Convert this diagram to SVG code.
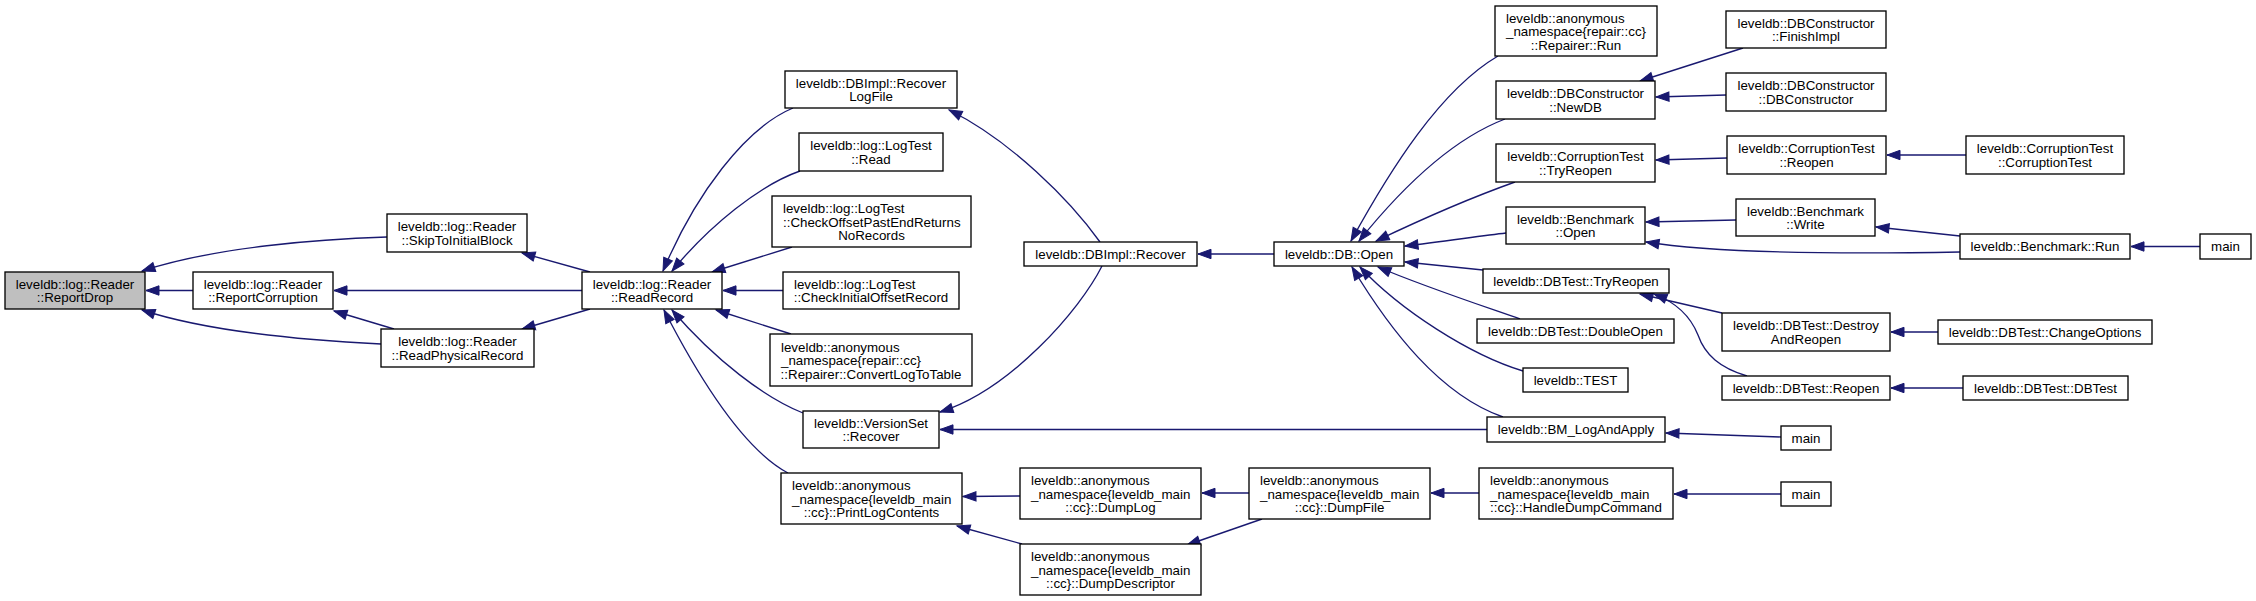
<svg xmlns="http://www.w3.org/2000/svg" width="2256" height="601" viewBox="0 0 2256 601">
<style>
.n rect{fill:#fff;stroke:#000;stroke-width:1.33}
.n.root rect{fill:#bfbfbf}
.n text{font-family:"Liberation Sans",Arial,Helvetica,sans-serif;font-size:13.33px;fill:#000}
.c{text-anchor:middle}
.e path{fill:none;stroke:#191970;stroke-width:1.33;marker-end:url(#ah)}
</style>
<defs>
<marker id="ah" markerUnits="userSpaceOnUse" markerWidth="15" markerHeight="11" refX="13" refY="4.7" orient="auto" overflow="visible">
<path d="M0,0 L13,4.7 L0,9.4 Z" fill="#191970" stroke="#191970" stroke-width="1"/>
</marker>
</defs>
<rect width="2256" height="601" fill="#fff"/>
<g class="e" id="edges">
<path d="M193,290.5 L146,290.5"/>
<path d="M387,237 C320,239 215,247 142,271"/>
<path d="M381,344 C320,341 215,334 142,310"/>
<path d="M394,329 L334,311"/>
<path d="M582,290.5 L334,290.5"/>
<path d="M590,272 L522,253"/>
<path d="M590,309 L522,329"/>
<path d="M793,108 C745,128 695,195 663,271"/>
<path d="M800,171 C760,185 710,225 672,271"/>
<path d="M792,247 L712,272"/>
<path d="M783,290.5 L723,290.5"/>
<path d="M791,334 L716,310"/>
<path d="M803,413 C765,398 715,360 672,310"/>
<path d="M788,473 C745,450 700,380 664,310"/>
<path d="M1100,242 C1070,200 1010,140 949,110"/>
<path d="M1102,266 C1080,310 1010,390 940,412"/>
<path d="M1274,254 L1198,254"/>
<path d="M1487,429.5 L940,429.5"/>
<path d="M1020,496 L963,496.5"/>
<path d="M1022,544 L957,526"/>
<path d="M1249,493 L1202,493"/>
<path d="M1262,519 L1187,545"/>
<path d="M1479,493 L1431,493"/>
<path d="M1781,494 L1674,494"/>
<path d="M1781,437 L1666,433"/>
<path d="M1498,56 C1440,90 1390,170 1351,241"/>
<path d="M1505,119 C1450,140 1400,190 1359,241"/>
<path d="M1515,182 C1470,198 1420,220 1376,241"/>
<path d="M1506,233 C1480,236 1440,242 1405,246"/>
<path d="M1483,270 L1405,262"/>
<path d="M1520,319 C1480,305 1420,285 1378,267"/>
<path d="M1523,371 C1470,355 1400,310 1360,267"/>
<path d="M1503,417 C1440,395 1390,330 1352,267"/>
<path d="M1743,48 L1640,81"/>
<path d="M1726,95 L1656,97"/>
<path d="M1727,158 L1656,160"/>
<path d="M1966,155 L1887,155"/>
<path d="M1736,220 L1646,222"/>
<path d="M1960,236 L1876,227"/>
<path d="M1960,252 C1850,254 1720,254 1646,242"/>
<path d="M2200,246.5 L2131,246.5"/>
<path d="M1722,313 L1640,294"/>
<path d="M1747,376 C1720,368 1705,355 1698,335 C1690,315 1675,302 1654,294"/>
<path d="M1938,332 L1891,332"/>
<path d="M1963,388 L1891,388"/>
</g>
<g class="n root" id="ReportDrop"><rect x="5" y="272" width="140" height="37"/><text class="c" x="75" y="288.5">leveldb::log::Reader</text><text class="c" x="75" y="302">::ReportDrop</text></g>
<g class="n" id="ReportCorruption"><rect x="193" y="272" width="140" height="37"/><text class="c" x="263" y="288.5">leveldb::log::Reader</text><text class="c" x="263" y="302">::ReportCorruption</text></g>
<g class="n" id="SkipToInitialBlock"><rect x="387" y="214" width="140" height="38"/><text class="c" x="457" y="231">leveldb::log::Reader</text><text class="c" x="457" y="244.5">::SkipToInitialBlock</text></g>
<g class="n" id="ReadPhysicalRecord"><rect x="381" y="329" width="153" height="38"/><text class="c" x="457.5" y="346">leveldb::log::Reader</text><text class="c" x="457.5" y="359.5">::ReadPhysicalRecord</text></g>
<g class="n" id="ReadRecord"><rect x="582" y="272" width="140" height="37"/><text class="c" x="652" y="288.5">leveldb::log::Reader</text><text class="c" x="652" y="302">::ReadRecord</text></g>
<g class="n" id="RecoverLogFile"><rect x="785" y="71" width="172" height="37"/><text class="c" x="871" y="87.5">leveldb::DBImpl::Recover</text><text class="c" x="871" y="101">LogFile</text></g>
<g class="n" id="LogTestRead"><rect x="799" y="133" width="144" height="38"/><text class="c" x="871" y="150">leveldb::log::LogTest</text><text class="c" x="871" y="163.5">::Read</text></g>
<g class="n" id="CheckOffsetPastEnd"><rect x="772" y="196" width="199" height="51"/><text x="783" y="213">leveldb::log::LogTest</text><text x="783" y="226.5">::CheckOffsetPastEndReturns</text><text class="c" x="871.5" y="240">NoRecords</text></g>
<g class="n" id="CheckInitialOffsetRecord"><rect x="783" y="272" width="176" height="37"/><text x="794" y="288.5">leveldb::log::LogTest</text><text class="c" x="871" y="302">::CheckInitialOffsetRecord</text></g>
<g class="n" id="ConvertLogToTable"><rect x="770" y="334" width="202" height="52"/><text x="781" y="351.5">leveldb::anonymous</text><text x="781" y="365">_namespace{repair::cc}</text><text class="c" x="871" y="378.5">::Repairer::ConvertLogToTable</text></g>
<g class="n" id="VersionSetRecover"><rect x="803" y="411" width="136" height="37"/><text class="c" x="871" y="427.5">leveldb::VersionSet</text><text class="c" x="871" y="441">::Recover</text></g>
<g class="n" id="PrintLogContents"><rect x="781" y="473" width="181" height="51"/><text x="792" y="490">leveldb::anonymous</text><text x="792" y="503.5">_namespace{leveldb_main</text><text class="c" x="871.5" y="517">::cc}::PrintLogContents</text></g>
<g class="n" id="DBImplRecover"><rect x="1024" y="242" width="173" height="24"/><text class="c" x="1110.5" y="258.5">leveldb::DBImpl::Recover</text></g>
<g class="n" id="DumpLog"><rect x="1020" y="468" width="181" height="51"/><text x="1031" y="485">leveldb::anonymous</text><text x="1031" y="498.5">_namespace{leveldb_main</text><text class="c" x="1110.5" y="512">::cc}::DumpLog</text></g>
<g class="n" id="DumpDescriptor"><rect x="1020" y="544" width="181" height="51"/><text x="1031" y="561">leveldb::anonymous</text><text x="1031" y="574.5">_namespace{leveldb_main</text><text class="c" x="1110.5" y="588">::cc}::DumpDescriptor</text></g>
<g class="n" id="DBOpen"><rect x="1274" y="242" width="130" height="24"/><text class="c" x="1339" y="258.5">leveldb::DB::Open</text></g>
<g class="n" id="DumpFile"><rect x="1249" y="468" width="181" height="51"/><text x="1260" y="485">leveldb::anonymous</text><text x="1260" y="498.5">_namespace{leveldb_main</text><text class="c" x="1339.5" y="512">::cc}::DumpFile</text></g>
<g class="n" id="HandleDumpCommand"><rect x="1479" y="468" width="194" height="51"/><text x="1490" y="485">leveldb::anonymous</text><text x="1490" y="498.5">_namespace{leveldb_main</text><text class="c" x="1576" y="512">::cc}::HandleDumpCommand</text></g>
<g class="n" id="RepairerRun"><rect x="1495" y="6" width="162" height="50"/><text x="1506" y="22.5">leveldb::anonymous</text><text x="1506" y="36">_namespace{repair::cc}</text><text class="c" x="1576" y="49.5">::Repairer::Run</text></g>
<g class="n" id="NewDB"><rect x="1496" y="81" width="159" height="38"/><text class="c" x="1575.5" y="98">leveldb::DBConstructor</text><text class="c" x="1575.5" y="111.5">::NewDB</text></g>
<g class="n" id="CTTryReopen"><rect x="1496" y="144" width="159" height="38"/><text class="c" x="1575.5" y="161">leveldb::CorruptionTest</text><text class="c" x="1575.5" y="174.5">::TryReopen</text></g>
<g class="n" id="BenchmarkOpen"><rect x="1506" y="207" width="139" height="37"/><text class="c" x="1575.5" y="223.5">leveldb::Benchmark</text><text class="c" x="1575.5" y="237">::Open</text></g>
<g class="n" id="DBTestTryReopen"><rect x="1483" y="269" width="186" height="24"/><text class="c" x="1576" y="285.5">leveldb::DBTest::TryReopen</text></g>
<g class="n" id="DoubleOpen"><rect x="1477" y="319" width="197" height="24"/><text class="c" x="1575.5" y="335.5">leveldb::DBTest::DoubleOpen</text></g>
<g class="n" id="TEST"><rect x="1523" y="368" width="105" height="24"/><text class="c" x="1575.5" y="384.5">leveldb::TEST</text></g>
<g class="n" id="BMLogAndApply"><rect x="1487" y="417" width="178" height="25"/><text class="c" x="1576" y="434">leveldb::BM_LogAndApply</text></g>
<g class="n" id="FinishImpl"><rect x="1726" y="11" width="160" height="37"/><text class="c" x="1806" y="27.5">leveldb::DBConstructor</text><text class="c" x="1806" y="41">::FinishImpl</text></g>
<g class="n" id="DBConstructor"><rect x="1726" y="73" width="160" height="38"/><text class="c" x="1806" y="90">leveldb::DBConstructor</text><text class="c" x="1806" y="103.5">::DBConstructor</text></g>
<g class="n" id="CTReopen"><rect x="1727" y="136" width="159" height="38"/><text class="c" x="1806.5" y="153">leveldb::CorruptionTest</text><text class="c" x="1806.5" y="166.5">::Reopen</text></g>
<g class="n" id="BenchmarkWrite"><rect x="1736" y="199" width="139" height="37"/><text class="c" x="1805.5" y="215.5">leveldb::Benchmark</text><text class="c" x="1805.5" y="229">::Write</text></g>
<g class="n" id="DestroyAndReopen"><rect x="1722" y="313" width="168" height="38"/><text class="c" x="1806" y="330">leveldb::DBTest::Destroy</text><text class="c" x="1806" y="343.5">AndReopen</text></g>
<g class="n" id="DBTestReopen"><rect x="1722" y="376" width="168" height="24"/><text class="c" x="1806" y="392.5">leveldb::DBTest::Reopen</text></g>
<g class="n" id="main1"><rect x="1781" y="426" width="50" height="24"/><text class="c" x="1806" y="442.5">main</text></g>
<g class="n" id="main2"><rect x="1781" y="482" width="50" height="24"/><text class="c" x="1806" y="498.5">main</text></g>
<g class="n" id="CTCorruptionTest"><rect x="1966" y="136" width="158" height="38"/><text class="c" x="2045" y="153">leveldb::CorruptionTest</text><text class="c" x="2045" y="166.5">::CorruptionTest</text></g>
<g class="n" id="BenchmarkRun"><rect x="1960" y="234" width="170" height="25"/><text class="c" x="2045" y="251">leveldb::Benchmark::Run</text></g>
<g class="n" id="main3"><rect x="2200" y="234" width="51" height="25"/><text class="c" x="2225.5" y="251">main</text></g>
<g class="n" id="ChangeOptions"><rect x="1938" y="320" width="214" height="24"/><text class="c" x="2045" y="336.5">leveldb::DBTest::ChangeOptions</text></g>
<g class="n" id="DBTestDBTest"><rect x="1963" y="376" width="165" height="24"/><text class="c" x="2045.5" y="392.5">leveldb::DBTest::DBTest</text></g>
</svg>
